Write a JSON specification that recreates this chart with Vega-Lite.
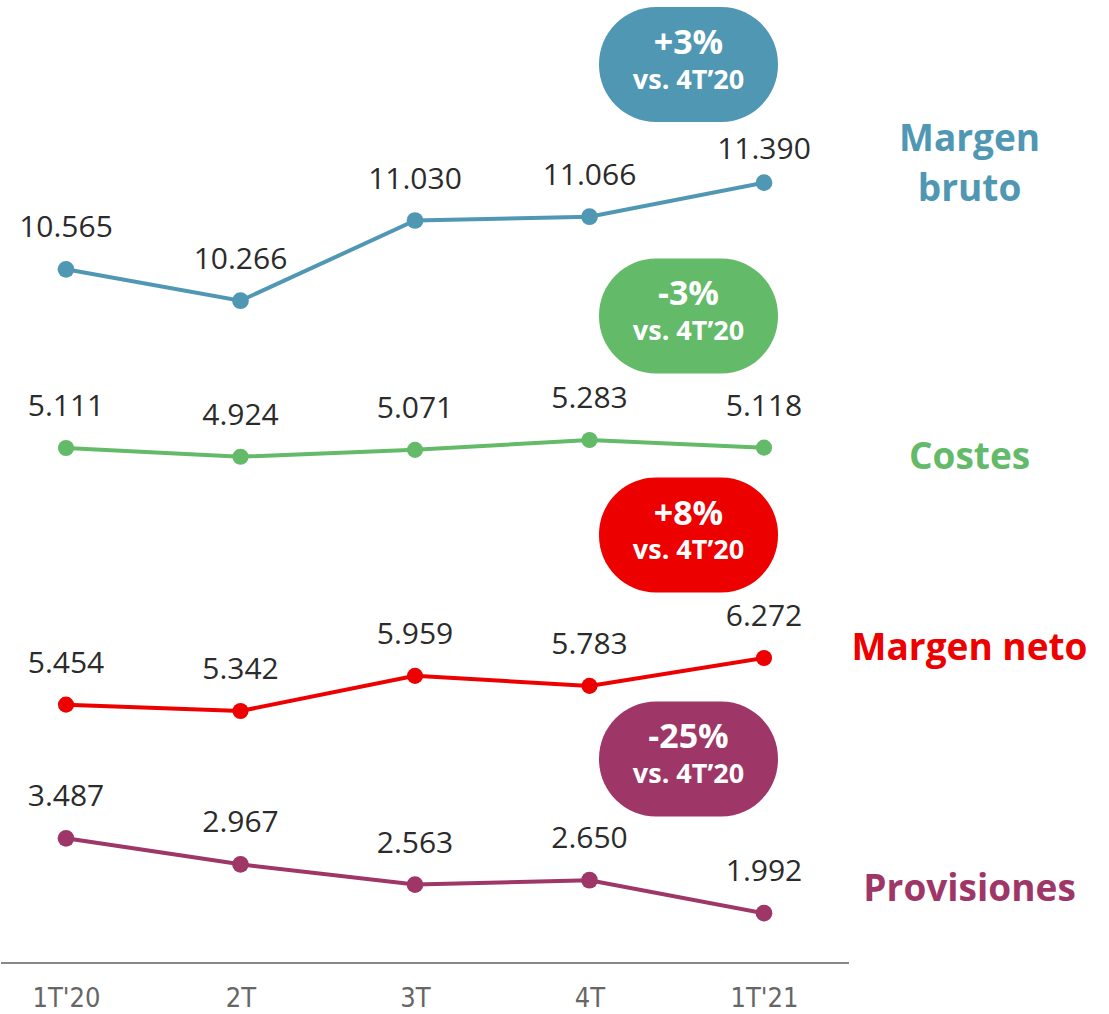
{
  "$schema": "https://vega.github.io/schema/vega-lite/v6.json",
  "width": 1109,
  "height": 963,
  "padding": 0,
  "autosize": {"type": "pad"},
  "background": "white",
  "config": {
    "view": {"stroke": null},
    "locale": {"number": {"decimal": ",", "thousands": ".", "grouping": [3], "currency": ["", " €"]}},
    "axisX": {"domain": false, "ticks": false, "tickSize": 0, "grid": false, "labelFont": "DejaVu Sans Condensed", "labelFontSize": 27, "labelColor": "#666666", "labelPadding": 22, "labelOverlap": false, "labelFlush": false, "title": null}
  },
  "resolve": {"scale": {"y": "independent"}, "axis": {"y": "independent"}},
  "layer": [
    {
      "layer": [
        {"data": {"name": "bruto"}, "mark": {"type": "line", "color": "#5097B4", "strokeWidth": 4}, "encoding": {
          "x": {"field": "i", "type": "quantitative", "title": null, "scale": {"domain": [0.62751, 6.98281], "nice": false, "zero": false}, "axis": {"values": [1, 2, 3, 4, 5], "labelExpr": "['','1T\\'20','2T','3T','4T','1T\\'21'][datum.value]"}},
          "y": {"field": "v", "type": "quantitative", "scale": {"domain": [3958.6, 13130], "nice": false, "zero": false}, "axis": null}}},
        {"data": {"name": "bruto"}, "mark": {"type": "point", "filled": true, "opacity": 1, "size": 280, "color": "#5097B4"}, "encoding": {
          "x": {"field": "i", "type": "quantitative"},
          "y": {"field": "v", "type": "quantitative"}}},
        {"data": {"name": "bruto"}, "transform": [{"filter": "datum.i < 5"}], "mark": {"type": "text", "dy": -41, "fontSize": 30, "font": "Open Sans", "color": "#2b2b2b", "baseline": "middle"}, "encoding": {
          "x": {"field": "i", "type": "quantitative"},
          "y": {"field": "v", "type": "quantitative"},
          "text": {"field": "v", "type": "quantitative", "format": ",.0f"}}},
        {"data": {"name": "bruto"}, "transform": [{"filter": "datum.i == 5"}], "mark": {"type": "text", "dy": -33, "fontSize": 30, "font": "Open Sans", "color": "#2b2b2b", "baseline": "middle"}, "encoding": {
          "x": {"field": "i", "type": "quantitative"},
          "y": {"field": "v", "type": "quantitative"},
          "text": {"field": "v", "type": "quantitative", "format": ",.0f"}}},
        {"data": {"name": "badges"}, "transform": [{"filter": "datum.name == 'Margen bruto'"}], "mark": {"type": "rect", "color": "#5097B4", "cornerRadius": 57}, "encoding": {
          "x": {"datum": 4.0544, "type": "quantitative"},
          "x2": {"datum": 5.0802},
          "y": {"datum": 13063.3, "type": "quantitative"},
          "y2": {"datum": 11968.1}}},
        {"data": {"name": "badges"}, "transform": [{"filter": "datum.name == 'Margen bruto'"}], "mark": {"type": "text", "color": "white", "font": "Open Sans", "fontWeight": "bold", "fontSize": 34, "dy": -20.5, "baseline": "middle"}, "encoding": {
          "x": {"datum": 4.5673, "type": "quantitative"},
          "y": {"datum": 12515.7, "type": "quantitative"},
          "text": {"field": "chg", "type": "nominal"}}},
        {"data": {"name": "badges"}, "transform": [{"filter": "datum.name == 'Margen bruto'"}], "mark": {"type": "text", "color": "white", "font": "Open Sans", "fontWeight": "bold", "fontSize": 27, "dy": 16, "baseline": "middle"}, "encoding": {
          "x": {"datum": 4.5673, "type": "quantitative"},
          "y": {"datum": 12515.7, "type": "quantitative"},
          "text": {"field": "ref", "type": "nominal"}}},
        {"data": {"name": "badges"}, "transform": [{"filter": "datum.name == 'Margen bruto'"}], "mark": {"type": "text", "color": "#5097B4", "font": "Open Sans", "fontWeight": "bold", "fontSize": 37, "lineBreak": " ", "lineHeight": 50, "baseline": "middle"}, "encoding": {
          "x": {"datum": 6.178, "type": "quantitative"},
          "y": {"datum": 11796.7, "type": "quantitative"},
          "text": {"field": "name", "type": "nominal"}}}
      ]
    },
    {
      "layer": [
        {"data": {"name": "costes"}, "mark": {"type": "line", "color": "#63BA68", "strokeWidth": 4}, "encoding": {
          "x": {"field": "i", "type": "quantitative"},
          "y": {"field": "v", "type": "quantitative", "scale": {"domain": [-5964.3, 14745.4], "nice": false, "zero": false}, "axis": null}}},
        {"data": {"name": "costes"}, "mark": {"type": "point", "filled": true, "opacity": 1, "size": 260, "color": "#63BA68"}, "encoding": {
          "x": {"field": "i", "type": "quantitative"},
          "y": {"field": "v", "type": "quantitative"}}},
        {"data": {"name": "costes"}, "mark": {"type": "text", "dy": -41, "fontSize": 30, "font": "Open Sans", "color": "#2b2b2b", "baseline": "middle"}, "encoding": {
          "x": {"field": "i", "type": "quantitative"},
          "y": {"field": "v", "type": "quantitative"},
          "text": {"field": "v", "type": "quantitative", "format": ",.0f"}}},
        {"data": {"name": "badges"}, "transform": [{"filter": "datum.name == 'Costes'"}], "mark": {"type": "rect", "color": "#63BA68", "cornerRadius": 57}, "encoding": {
          "x": {"datum": 4.0544, "type": "quantitative"},
          "x2": {"datum": 5.0802},
          "y": {"datum": 9186.3, "type": "quantitative"},
          "y2": {"datum": 6713.1}}},
        {"data": {"name": "badges"}, "transform": [{"filter": "datum.name == 'Costes'"}], "mark": {"type": "text", "color": "white", "font": "Open Sans", "fontWeight": "bold", "fontSize": 34, "dy": -20.5, "baseline": "middle"}, "encoding": {
          "x": {"datum": 4.5673, "type": "quantitative"},
          "y": {"datum": 7949.7, "type": "quantitative"},
          "text": {"field": "chg", "type": "nominal"}}},
        {"data": {"name": "badges"}, "transform": [{"filter": "datum.name == 'Costes'"}], "mark": {"type": "text", "color": "white", "font": "Open Sans", "fontWeight": "bold", "fontSize": 27, "dy": 16, "baseline": "middle"}, "encoding": {
          "x": {"datum": 4.5673, "type": "quantitative"},
          "y": {"datum": 7949.7, "type": "quantitative"},
          "text": {"field": "ref", "type": "nominal"}}},
        {"data": {"name": "badges"}, "transform": [{"filter": "datum.name == 'Costes'"}], "mark": {"type": "text", "color": "#63BA68", "font": "Open Sans", "fontWeight": "bold", "fontSize": 37, "baseline": "middle"}, "encoding": {
          "x": {"datum": 6.178, "type": "quantitative"},
          "y": {"datum": 4890, "type": "quantitative"},
          "text": {"field": "name", "type": "nominal"}}}
      ]
    },
    {
      "layer": [
        {"data": {"name": "neto"}, "mark": {"type": "line", "color": "#EC0000", "strokeWidth": 4}, "encoding": {
          "x": {"field": "i", "type": "quantitative"},
          "y": {"field": "v", "type": "quantitative", "scale": {"domain": [921.2, 17815.9], "nice": false, "zero": false}, "axis": null}}},
        {"data": {"name": "neto"}, "mark": {"type": "point", "filled": true, "opacity": 1, "size": 260, "color": "#EC0000"}, "encoding": {
          "x": {"field": "i", "type": "quantitative"},
          "y": {"field": "v", "type": "quantitative"}}},
        {"data": {"name": "neto"}, "mark": {"type": "text", "dy": -41, "fontSize": 30, "font": "Open Sans", "color": "#2b2b2b", "baseline": "middle"}, "encoding": {
          "x": {"field": "i", "type": "quantitative"},
          "y": {"field": "v", "type": "quantitative"},
          "text": {"field": "v", "type": "quantitative", "format": ",.0f"}}},
        {"data": {"name": "badges"}, "transform": [{"filter": "datum.name == 'Margen neto'"}], "mark": {"type": "rect", "color": "#EC0000", "cornerRadius": 57}, "encoding": {
          "x": {"datum": 4.0544, "type": "quantitative"},
          "x2": {"datum": 5.0802},
          "y": {"datum": 9438.7, "type": "quantitative"},
          "y2": {"datum": 7421.2}}},
        {"data": {"name": "badges"}, "transform": [{"filter": "datum.name == 'Margen neto'"}], "mark": {"type": "text", "color": "white", "font": "Open Sans", "fontWeight": "bold", "fontSize": 34, "dy": -20.5, "baseline": "middle"}, "encoding": {
          "x": {"datum": 4.5673, "type": "quantitative"},
          "y": {"datum": 8429.9, "type": "quantitative"},
          "text": {"field": "chg", "type": "nominal"}}},
        {"data": {"name": "badges"}, "transform": [{"filter": "datum.name == 'Margen neto'"}], "mark": {"type": "text", "color": "white", "font": "Open Sans", "fontWeight": "bold", "fontSize": 27, "dy": 16, "baseline": "middle"}, "encoding": {
          "x": {"datum": 4.5673, "type": "quantitative"},
          "y": {"datum": 8429.9, "type": "quantitative"},
          "text": {"field": "ref", "type": "nominal"}}},
        {"data": {"name": "badges"}, "transform": [{"filter": "datum.name == 'Margen neto'"}], "mark": {"type": "text", "color": "#EC0000", "font": "Open Sans", "fontWeight": "bold", "fontSize": 37, "baseline": "middle"}, "encoding": {
          "x": {"datum": 6.178, "type": "quantitative"},
          "y": {"datum": 6430, "type": "quantitative"},
          "text": {"field": "name", "type": "nominal"}}}
      ]
    },
    {
      "layer": [
        {"data": {"name": "prov"}, "mark": {"type": "line", "color": "#9E3667", "strokeWidth": 4}, "encoding": {
          "x": {"field": "i", "type": "quantitative"},
          "y": {"field": "v", "type": "quantitative", "scale": {"domain": [997.9, 20219.5], "nice": false, "zero": false}, "axis": null}}},
        {"data": {"name": "prov"}, "mark": {"type": "point", "filled": true, "opacity": 1, "size": 280, "color": "#9E3667"}, "encoding": {
          "x": {"field": "i", "type": "quantitative"},
          "y": {"field": "v", "type": "quantitative"}}},
        {"data": {"name": "prov"}, "mark": {"type": "text", "dy": -41, "fontSize": 30, "font": "Open Sans", "color": "#2b2b2b", "baseline": "middle"}, "encoding": {
          "x": {"field": "i", "type": "quantitative"},
          "y": {"field": "v", "type": "quantitative"},
          "text": {"field": "v", "type": "quantitative", "format": ",.0f"}}},
        {"data": {"name": "badges"}, "transform": [{"filter": "datum.name == 'Provisiones'"}], "mark": {"type": "rect", "color": "#9E3667", "cornerRadius": 57}, "encoding": {
          "x": {"datum": 4.0544, "type": "quantitative"},
          "x2": {"datum": 5.0802},
          "y": {"datum": 6217.5, "type": "quantitative"},
          "y2": {"datum": 3922.1}}},
        {"data": {"name": "badges"}, "transform": [{"filter": "datum.name == 'Provisiones'"}], "mark": {"type": "text", "color": "white", "font": "Open Sans", "fontWeight": "bold", "fontSize": 34, "dy": -20.5, "baseline": "middle"}, "encoding": {
          "x": {"datum": 4.5673, "type": "quantitative"},
          "y": {"datum": 5069.8, "type": "quantitative"},
          "text": {"field": "chg", "type": "nominal"}}},
        {"data": {"name": "badges"}, "transform": [{"filter": "datum.name == 'Provisiones'"}], "mark": {"type": "text", "color": "white", "font": "Open Sans", "fontWeight": "bold", "fontSize": 27, "dy": 16, "baseline": "middle"}, "encoding": {
          "x": {"datum": 4.5673, "type": "quantitative"},
          "y": {"datum": 5069.8, "type": "quantitative"},
          "text": {"field": "ref", "type": "nominal"}}},
        {"data": {"name": "badges"}, "transform": [{"filter": "datum.name == 'Provisiones'"}], "mark": {"type": "text", "color": "#9E3667", "font": "Open Sans", "fontWeight": "bold", "fontSize": 37, "baseline": "middle"}, "encoding": {
          "x": {"datum": 6.178, "type": "quantitative"},
          "y": {"datum": 2455, "type": "quantitative"},
          "text": {"field": "name", "type": "nominal"}}},
        {"data": {"name": "badges"}, "transform": [{"filter": "datum.name == 'Provisiones'"}], "mark": {"type": "rule", "color": "#888888", "strokeWidth": 2}, "encoding": {
          "x": {"datum": 0.62751, "type": "quantitative"},
          "x2": {"datum": 5.4871},
          "y": {"datum": 997.9, "type": "quantitative"}}}
      ]
    }
  ],
  "datasets": {
    "bruto": [
      {"serie": "Margen bruto", "t": "1T'20", "i": 1, "v": 10565},
      {"serie": "Margen bruto", "t": "2T", "i": 2, "v": 10266},
      {"serie": "Margen bruto", "t": "3T", "i": 3, "v": 11030},
      {"serie": "Margen bruto", "t": "4T", "i": 4, "v": 11066},
      {"serie": "Margen bruto", "t": "1T'21", "i": 5, "v": 11390}
    ],
    "costes": [
      {"serie": "Costes", "t": "1T'20", "i": 1, "v": 5111},
      {"serie": "Costes", "t": "2T", "i": 2, "v": 4924},
      {"serie": "Costes", "t": "3T", "i": 3, "v": 5071},
      {"serie": "Costes", "t": "4T", "i": 4, "v": 5283},
      {"serie": "Costes", "t": "1T'21", "i": 5, "v": 5118}
    ],
    "neto": [
      {"serie": "Margen neto", "t": "1T'20", "i": 1, "v": 5454},
      {"serie": "Margen neto", "t": "2T", "i": 2, "v": 5342},
      {"serie": "Margen neto", "t": "3T", "i": 3, "v": 5959},
      {"serie": "Margen neto", "t": "4T", "i": 4, "v": 5783},
      {"serie": "Margen neto", "t": "1T'21", "i": 5, "v": 6272}
    ],
    "prov": [
      {"serie": "Provisiones", "t": "1T'20", "i": 1, "v": 3487},
      {"serie": "Provisiones", "t": "2T", "i": 2, "v": 2967},
      {"serie": "Provisiones", "t": "3T", "i": 3, "v": 2563},
      {"serie": "Provisiones", "t": "4T", "i": 4, "v": 2650},
      {"serie": "Provisiones", "t": "1T'21", "i": 5, "v": 1992}
    ],
    "badges": [
      {"name": "Margen bruto", "chg": "+3%", "ref": "vs. 4T’20"},
      {"name": "Costes", "chg": "-3%", "ref": "vs. 4T’20"},
      {"name": "Margen neto", "chg": "+8%", "ref": "vs. 4T’20"},
      {"name": "Provisiones", "chg": "-25%", "ref": "vs. 4T’20"}
    ]
  }
}
